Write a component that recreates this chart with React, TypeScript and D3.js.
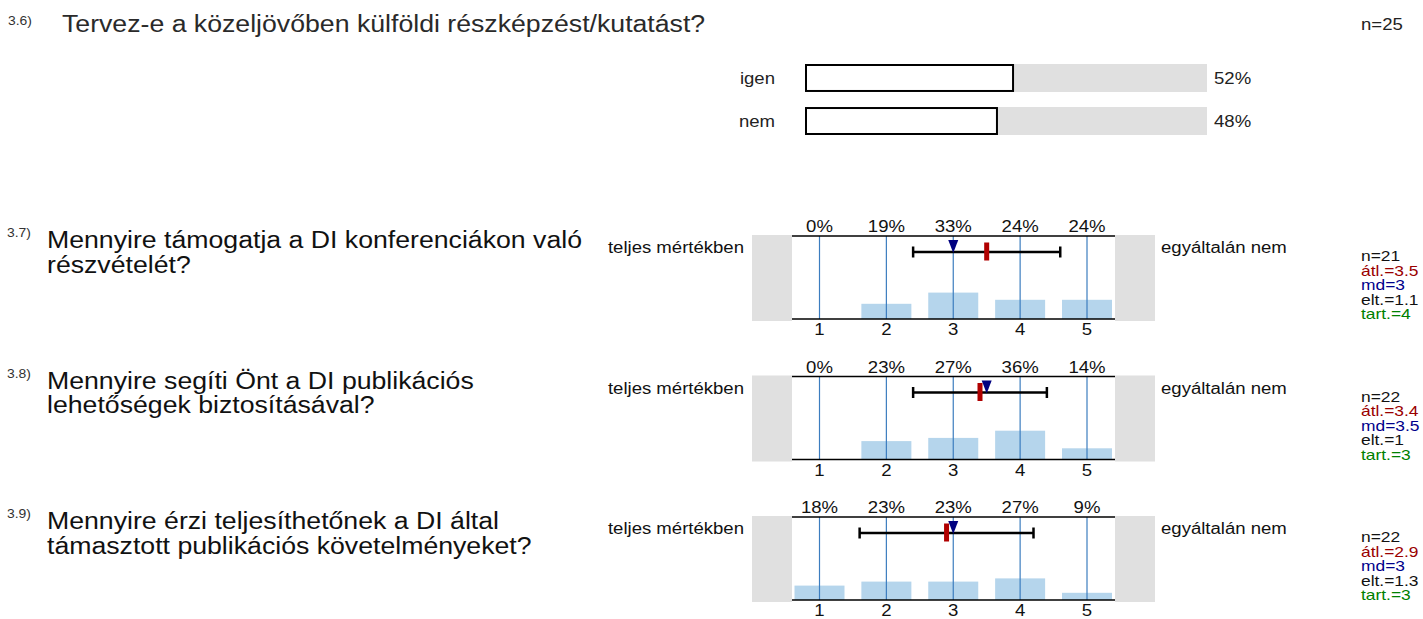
import React, { useEffect, useRef } from "react";
import * as d3 from "d3";

// question 3.6 (yes / no)
const binaryLabels = ["igen", "nem"];
const binaryValues = [52, 48];
const binaryN = 25;

// questions 3.7 - 3.9 (1..5 scale)
const scaleCodes = ["3.7)", "3.8)", "3.9)"];
const scaleQuestions = [
  ["Mennyire támogatja a DI konferenciákon való", "részvételét?"],
  ["Mennyire segíti Önt a DI publikációs", "lehetőségek biztosításával?"],
  ["Mennyire érzi teljesíthetőnek a DI által", "támasztott publikációs követelményeket?"],
];
const scalePoints = [1, 2, 3, 4, 5];
const pctQ37 = [0, 19, 33, 24, 24];
const pctQ38 = [0, 23, 27, 36, 14];
const pctQ39 = [18, 23, 23, 27, 9];
const nValues = [21, 22, 22];
const meanValues = [3.5, 3.4, 2.9];
const medianValues = [3, 3.5, 3];
const sdValues = [1.1, 1, 1.3];
const rangeValues = [4, 3, 3];

const WIDTH = 1423;
const HEIGHT = 619;
const SX = 1.16; // glyphs in the original are a bit wider than Arial
const FONT = "'Liberation Sans', Arial, sans-serif";

function SurveyChart() {
  const ref = useRef<SVGSVGElement | null>(null);

  useEffect(() => {
    if (!ref.current) return;
    const svg = d3.select(ref.current);
    svg.selectAll("*").remove();

    const txt = (x: number, y: number, s: string, size: number, fill = "#222", anchor = "start") =>
      svg
        .append("text")
        .attr("transform", `translate(${x},${y}) scale(${SX},1)`)
        .attr("font-size", size)
        .attr("fill", fill)
        .attr("text-anchor", anchor)
        .text(s);

    // ---- 3.6
    txt(8, 25, "3.6)", 12, "#333");
    txt(62, 32, "Tervez-e a közeljövőben külföldi részképzést/kutatást?", 23, "#2a2a2a");
    txt(1361, 30, `n=${binaryN}`, 16);

    const xb = d3.scaleLinear().domain([0, 100]).range([805, 1207]);
    const rowY = d3.scaleBand<string>().domain(binaryLabels).range([64, 135]).paddingInner(0.35).paddingOuter(0);
    const rowH = rowY.bandwidth();

    binaryLabels.forEach((lab, i) => {
      const y = rowY(lab)!;
      svg.append("rect").attr("x", xb(0)).attr("y", y).attr("width", xb(100) - xb(0)).attr("height", rowH).attr("fill", "#e0e0e0");
      svg
        .append("rect")
        .attr("x", xb(0) + 1)
        .attr("y", y + 1)
        .attr("width", xb(binaryValues[i]) - xb(0) - 2)
        .attr("height", rowH - 2)
        .attr("fill", "#fff")
        .attr("stroke", "#000")
        .attr("stroke-width", 2);
      txt(775, y + rowH / 2 + 6, lab, 16, "#222", "end");
      txt(1214, y + rowH / 2 + 6, `${binaryValues[i]}%`, 16);
    });

    // ---- 3.7 - 3.9
    const pcts = [pctQ37, pctQ38, pctQ39];
    const x = d3.scaleLinear().domain([1, 5]).range([819.5, 1087]);
    const barW = 50;

    scaleCodes.forEach((code, i) => {
      const y0 = 236 + i * 140.5;
      const yb = y0 + 83;
      const y = d3.scaleLinear().domain([0, 100]).range([yb, yb - 80]);
      const wy = y0 + 16;

      txt(7, y0 + 1, code, 12, "#333");
      scaleQuestions[i].forEach((line, k) => txt(47, y0 + 12 + k * 24.5, line, 23, "#111"));

      // side boxes
      svg.append("rect").attr("x", 752).attr("y", y0 - 1).attr("width", 40).attr("height", 86).attr("fill", "#e0e0e0");
      svg.append("rect").attr("x", 1115).attr("y", y0 - 1).attr("width", 40).attr("height", 86).attr("fill", "#e0e0e0");

      // bars
      svg
        .append("g")
        .selectAll("rect")
        .data(pcts[i])
        .join("rect")
        .attr("x", (_d, j) => x(scalePoints[j]) - barW / 2)
        .attr("y", (d) => y(d))
        .attr("width", barW)
        .attr("height", (d) => yb - y(d))
        .attr("fill", "#b5d5ec");

      // grid lines
      svg
        .append("g")
        .selectAll("line")
        .data(scalePoints)
        .join("line")
        .attr("x1", (d) => x(d))
        .attr("x2", (d) => x(d))
        .attr("y1", y0)
        .attr("y2", yb)
        .attr("stroke", "#3c7dbf")
        .attr("stroke-width", 1.2);

      svg.append("line").attr("x1", 792).attr("x2", 1115).attr("y1", y0).attr("y2", y0).attr("stroke", "#000").attr("stroke-width", 1.6);
      svg.append("line").attr("x1", 792).attr("x2", 1115).attr("y1", yb).attr("y2", yb).attr("stroke", "#000").attr("stroke-width", 1.6);

      pcts[i].forEach((p, j) => txt(x(scalePoints[j]), y0 - 4, `${p}%`, 16, "#111", "middle"));
      scalePoints.forEach((p) => txt(x(p), y0 + 99, String(p), 16, "#111", "middle"));

      // mean +- sd whisker
      const lo = x(meanValues[i] - sdValues[i]);
      const hi = x(meanValues[i] + sdValues[i]);
      svg.append("line").attr("x1", lo).attr("x2", hi).attr("y1", wy).attr("y2", wy).attr("stroke", "#000").attr("stroke-width", 2.5);
      [lo, hi].forEach((cx) =>
        svg.append("line").attr("x1", cx).attr("x2", cx).attr("y1", wy - 5.5).attr("y2", wy + 5.5).attr("stroke", "#000").attr("stroke-width", 2.5)
      );
      // median
      const mx = x(medianValues[i]);
      svg
        .append("path")
        .attr("d", `M${mx - 5},${wy - 12}L${mx + 5},${wy - 12}L${mx},${wy + 1}Z`)
        .attr("fill", "#000080");
      // mean
      svg
        .append("rect")
        .attr("x", x(meanValues[i]) - 2.5)
        .attr("y", wy - 9.5)
        .attr("width", 5)
        .attr("height", 18)
        .attr("fill", "#b00000");

      txt(744, y0 + 17, "teljes mértékben", 16, "#111", "end");
      txt(1161, y0 + 17, "egyáltalán nem", 16, "#111");

      const stats: [string, string][] = [
        [`n=${nValues[i]}`, "#111"],
        [`átl.=${meanValues[i]}`, "#9a0000"],
        [`md=${medianValues[i]}`, "#00008b"],
        [`elt.=${sdValues[i]}`, "#111"],
        [`tart.=${rangeValues[i]}`, "#008000"],
      ];
      stats.forEach(([s, c], k) => txt(1361, y0 + 25 + k * 14.6, s, 15, c));
    });
  }, []);

  return (
    <svg
      ref={ref}
      width={WIDTH}
      height={HEIGHT}
      style={{ position: "absolute", left: 0, top: 0, background: "#fff", fontFamily: FONT }}
    />
  );
}

export default function App() {
  return <SurveyChart />;
}
